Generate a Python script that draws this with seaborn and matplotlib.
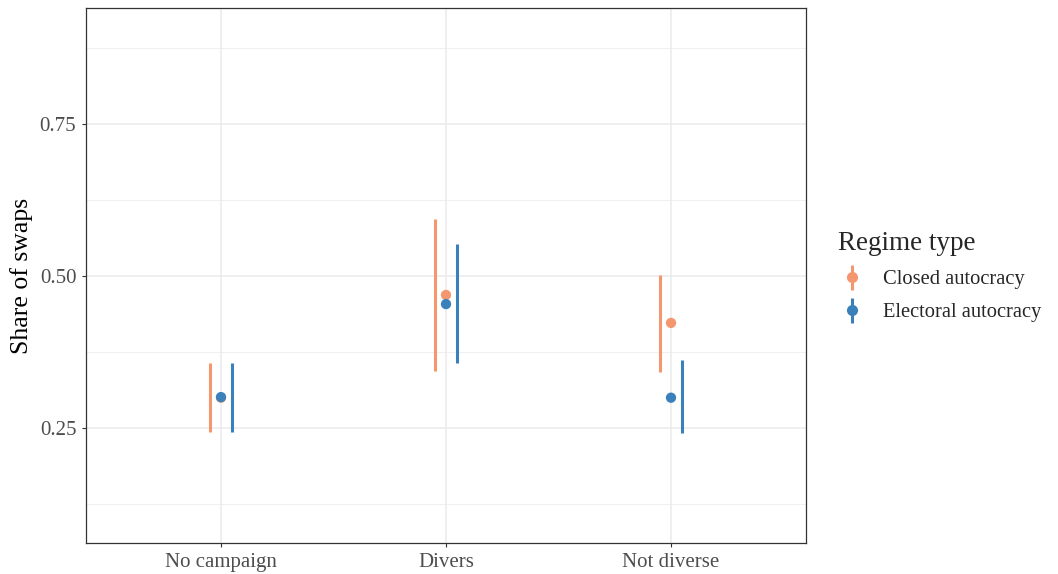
import matplotlib
matplotlib.use("Agg")
import matplotlib.pyplot as plt
import seaborn as sns
import pandas as pd
import numpy as np
from matplotlib.lines import Line2D
from matplotlib.legend_handler import HandlerTuple

categories = ["No campaign", "Divers", "Not diverse"]
groups = ["Closed autocracy", "Electoral autocracy"]
closed_est = [0.300, 0.469, 0.423]
closed_lo = [0.243, 0.344, 0.342]
closed_hi = [0.357, 0.594, 0.502]
elect_est = [0.301, 0.454, 0.300]
elect_lo = [0.243, 0.357, 0.242]
elect_hi = [0.357, 0.553, 0.362]
colors = {"Closed autocracy": "#F4976F", "Electoral autocracy": "#3A80BA"}

df = pd.DataFrame({
    "category": categories * 2,
    "group": [groups[0]] * 3 + [groups[1]] * 3,
    "est": closed_est + elect_est,
    "lo": closed_lo + elect_lo,
    "hi": closed_hi + elect_hi,
})

sns.set_theme(style="white")
plt.rcParams["font.family"] = ["Liberation Serif", "DejaVu Serif"]

fig = plt.figure(figsize=(10.58, 5.74), dpi=100)
ax = fig.add_axes([86/1058, 31/574, 720/1058, 535/574])

dodge = {groups[0]: -0.05, groups[1]: 0.05}
for g in groups:
    sub = df[df.group == g]
    xs = np.array([categories.index(c) for c in sub.category]) + dodge[g]
    ax.vlines(xs, sub.lo, sub.hi, color=colors[g], linewidth=2.2, zorder=3)

sns.scatterplot(data=df, x="category", y="est", hue="group", palette=colors,
                hue_order=groups, s=55, edgecolor="none", ax=ax, legend=False, zorder=4)

ax.set_xlim(-0.6, 2.6)
ax.set_ylim(0.061, 0.941)
ax.set_xticks(range(3))
ax.set_xticklabels(categories)
ax.set_yticks([0.25, 0.50, 0.75])
ax.set_yticklabels(["0.25", "0.50", "0.75"])
ax.set_yticks([0.125, 0.375, 0.625, 0.875], minor=True)
ax.grid(True, which="major", color="#EBEBEB", linewidth=1.1, zorder=0)
ax.grid(True, which="minor", axis="y", color="#EBEBEB", linewidth=0.55, zorder=0)
ax.set_axisbelow(True)
for s in ax.spines.values():
    s.set_color("#333333")
    s.set_linewidth(0.9)
ax.tick_params(axis="both", which="major", length=3, width=0.8, color="#333333",
               labelsize=15, labelcolor="#4D4D4D", pad=4, left=True, bottom=True)
ax.tick_params(axis="y", which="minor", length=0)
ax.set_xlabel("")
ax.set_ylabel("Share of swaps", fontsize=18.5, color="black", labelpad=5)

handles = []
for g in groups:
    h1 = Line2D([], [], marker="|", linestyle="none", markersize=18, markeredgewidth=2.2, color=colors[g])
    h2 = Line2D([], [], marker="o", linestyle="none", markersize=7, color=colors[g])
    handles.append((h1, h2))
leg = fig.legend(handles, groups, handler_map={tuple: HandlerTuple(ndivide=1)},
                 loc="upper left", bbox_to_anchor=(819/1058, 1 - 213/574),
                 frameon=False, title="Regime type", fontsize=14.8, title_fontsize=19.5,
                 handlelength=1.4, handletextpad=0.8, labelspacing=0.65, alignment="left")

fig.savefig("out.png", dpi=100)
